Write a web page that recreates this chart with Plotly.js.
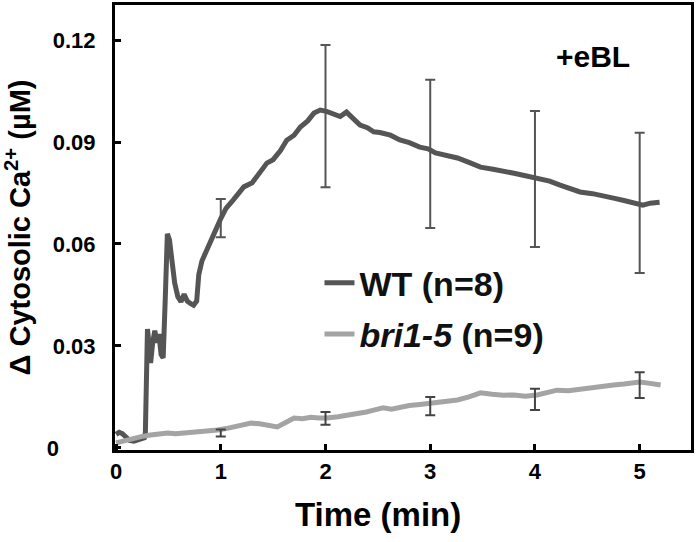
<!DOCTYPE html>
<html>
<head>
<meta charset="utf-8">
<script src="https://cdn.plot.ly/plotly-3.0.1.min.js"></script>
<style>
  body { margin: 0; background: #fff; }
  #chart { width: 698px; height: 542px; }
</style>
</head>
<body>
<div id="chart"></div>
<script>
// WT trace (time in min, delta Ca in uM)
const wtTime = [0.00, 0.03, 0.06, 0.10, 0.13, 0.17, 0.21, 0.25, 0.27, 0.28, 0.29, 0.30, 0.32, 0.33, 0.35, 0.37, 0.39, 0.41, 0.43, 0.45, 0.47, 0.49, 0.51, 0.53, 0.56, 0.59, 0.62, 0.65, 0.68, 0.71, 0.74, 0.77, 0.79, 0.82, 0.86, 0.90, 0.95, 1.00, 1.05, 1.12, 1.18, 1.22, 1.30, 1.37, 1.44, 1.50, 1.57, 1.63, 1.70, 1.76, 1.83, 1.89, 1.95, 2.01, 2.08, 2.14, 2.20, 2.26, 2.33, 2.40, 2.46, 2.52, 2.62, 2.71, 2.80, 2.90, 2.98, 3.05, 3.15, 3.26, 3.37, 3.48, 3.60, 3.70, 3.80, 3.92, 4.03, 4.14, 4.24, 4.33, 4.43, 4.55, 4.65, 4.75, 4.85, 4.95, 5.03, 5.10, 5.19];
const wtCa = [0.0040, 0.0046, 0.0042, 0.0030, 0.0022, 0.0020, 0.0024, 0.0028, 0.0030, 0.0045, 0.0330, 0.0350, 0.0290, 0.0250, 0.0310, 0.0345, 0.0310, 0.0335, 0.0275, 0.0265, 0.0440, 0.0630, 0.0612, 0.0555, 0.0485, 0.0445, 0.0430, 0.0452, 0.0432, 0.0425, 0.0420, 0.0432, 0.0510, 0.0550, 0.0580, 0.0608, 0.0640, 0.0675, 0.0705, 0.0730, 0.0750, 0.0768, 0.0780, 0.0808, 0.0838, 0.0848, 0.0875, 0.0905, 0.0920, 0.0944, 0.0962, 0.0985, 0.0994, 0.0990, 0.0980, 0.0975, 0.0988, 0.0968, 0.0950, 0.0942, 0.0930, 0.0928, 0.0920, 0.0906, 0.0898, 0.0885, 0.0880, 0.0868, 0.0862, 0.0853, 0.0840, 0.0826, 0.0820, 0.0815, 0.0808, 0.0800, 0.0794, 0.0785, 0.0773, 0.0765, 0.0753, 0.0748, 0.0740, 0.0735, 0.0728, 0.0722, 0.0714, 0.0720, 0.0723];

// bri1-5 trace
const briTime = [0.00, 0.08, 0.17, 0.25, 0.33, 0.41, 0.49, 0.57, 0.65, 0.73, 0.81, 0.89, 0.97, 1.05, 1.12, 1.20, 1.29, 1.37, 1.44, 1.54, 1.62, 1.70, 1.78, 1.86, 1.94, 2.01, 2.12, 2.24, 2.32, 2.39, 2.47, 2.55, 2.63, 2.71, 2.80, 2.90, 3.00, 3.13, 3.26, 3.37, 3.48, 3.59, 3.70, 3.80, 3.91, 4.02, 4.12, 4.21, 4.32, 4.43, 4.54, 4.65, 4.75, 4.85, 4.93, 5.00, 5.10, 5.20];
const briCa = [0.0015, 0.0022, 0.0030, 0.0034, 0.0038, 0.0040, 0.0044, 0.0042, 0.0044, 0.0045, 0.0047, 0.0050, 0.0053, 0.0057, 0.0062, 0.0068, 0.0073, 0.0071, 0.0068, 0.0062, 0.0075, 0.0088, 0.0086, 0.0090, 0.0088, 0.0088, 0.0092, 0.0097, 0.0102, 0.0106, 0.0112, 0.0118, 0.0114, 0.0120, 0.0125, 0.0128, 0.0132, 0.0135, 0.0141, 0.0150, 0.0162, 0.0158, 0.0155, 0.0156, 0.0152, 0.0156, 0.0164, 0.0170, 0.0168, 0.0173, 0.0176, 0.0182, 0.0185, 0.0188, 0.0192, 0.0194, 0.0190, 0.0185];

// error bars every minute
const errTime = [1, 2, 3, 4, 5];
const wtMean = [0.0676, 0.0976, 0.0865, 0.0791, 0.0721];
const wtErr = [0.0056, 0.0209, 0.0218, 0.0200, 0.0206];
const briMean = [0.0044, 0.0087, 0.0123, 0.0143, 0.0185];
const briErr = [0.0010, 0.0019, 0.0027, 0.0031, 0.0038];

const xTicks = [0, 1, 2, 3, 4, 5];
const yTicks = [0, 0.03, 0.06, 0.09, 0.12];
const yTickText = ['0\u00a0\u00a0\u00a0\u00a0\u00a0\u00a0', '0.03', '0.06', '0.09', '0.12'];

const fontFam = 'Liberation Sans, Arial, Helvetica, sans-serif';

const traces = [
    {
        x: wtTime, y: wtCa, type: 'scatter', mode: 'lines',
        name: 'WT (n=8)', legendgroup: 'wt',
        line: { color: '#555555', width: 5 }
    },
    {
        x: briTime, y: briCa, type: 'scatter', mode: 'lines',
        name: '<i>bri1-5</i> (n=9)', legendgroup: 'bri',
        line: { color: '#a4a4a4', width: 5 }
    },
    {
        x: errTime, y: wtMean, type: 'scatter', mode: 'markers',
        marker: { size: 1, opacity: 0 }, showlegend: false, hoverinfo: 'skip',
        error_y: { type: 'data', array: wtErr, visible: true, color: '#555555', thickness: 2, width: 5 }
    },
    {
        x: errTime, y: briMean, type: 'scatter', mode: 'markers',
        marker: { size: 1, opacity: 0 }, showlegend: false, hoverinfo: 'skip',
        error_y: { type: 'data', array: briErr, visible: true, color: '#444444', thickness: 2, width: 5 }
    }
];

const layout = {
    width: 698,
    height: 542,
    margin: { l: 115, r: 7, t: 5, b: 92 },
    paper_bgcolor: '#ffffff',
    plot_bgcolor: '#ffffff',
    font: { family: fontFam, color: '#000000' },
    showlegend: true,
    legend: {
        x: 0.355, y: 0.44, xanchor: 'left', yanchor: 'top',
        bgcolor: 'rgba(0,0,0,0)',
        font: { size: 34, weight: 'bold', family: fontFam, color: '#111111' },
        tracegroupgap: 4
    },
    xaxis: {
        range: [-0.01, 5.49],
        tickvals: xTicks,
        ticks: 'inside', ticklen: 6, tickwidth: 3, tickcolor: '#000',
        showline: true, linewidth: 3, linecolor: '#000', mirror: true,
        showgrid: false, zeroline: false,
        tickfont: { size: 22, weight: 'bold' }
    },
    yaxis: {
        range: [-0.0006, 0.1303],
        tickvals: yTicks, ticktext: yTickText,
        ticks: 'inside', ticklen: 6, tickwidth: 3, tickcolor: '#000',
        ticklabelstandoff: 12,
        showline: true, linewidth: 3, linecolor: '#000', mirror: true,
        showgrid: false, zeroline: false,
        tickfont: { size: 22, weight: 'bold' },
        title: {
            text: '\u0394 Cytosolic Ca<sup>2+</sup> (\u00b5M)',
            font: { size: 29, weight: 'bold' },
            standoff: 10
        }
    },
    annotations: [
        {
            text: '+eBL', xref: 'paper', yref: 'paper', x: 0.83, y: 0.885,
            xanchor: 'center', yanchor: 'middle', showarrow: false,
            font: { size: 30, weight: 'bold' }
        },
        {
            text: 'Time (min)', xref: 'x', yref: 'paper', x: 2.5, y: 0,
            yshift: -64, xanchor: 'center', yanchor: 'middle', showarrow: false,
            font: { size: 33, weight: 'bold' }
        }
    ]
};

Plotly.newPlot('chart', traces, layout, { displayModeBar: false, staticPlot: true });
</script>
</body>
</html>
